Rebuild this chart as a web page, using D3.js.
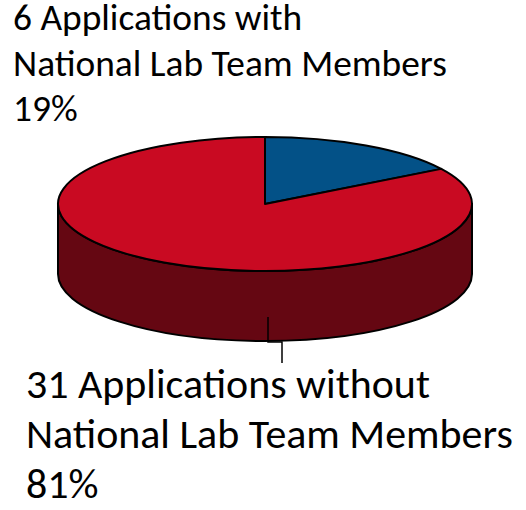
<!DOCTYPE html>
<html>
<head>
<meta charset="utf-8">
<script src="https://cdn.jsdelivr.net/npm/d3@7"></script>
<style>
  html, body { margin: 0; padding: 0; background: #fff; }
  text { font-family: Calibri, Carlito, Lato, sans-serif; fill: #000; }
</style>
</head>
<body>
<div id="chart"></div>
<script>
// data
const categories = ['with', 'without'];
const counts = [6, 31];
const percentLabels = ['19%', '81%'];
const labelLines = [
  ['6 Applications with', 'National Lab Team Members', '19%'],
  ['31 Applications without', 'National Lab Team Members', '81%']
];
const colors = ['#035187', '#c90a22'];
const sideColor = '#650712';

const width = 526;
const height = 510;
const cx = 265, cy = 204;   // centre of top ellipse
const rx = 207, ry = 67;
const depth = 70;

const svg = d3.select('#chart')
  .append('svg')
  .attr('width', width)
  .attr('height', height);

const pie = d3.pie().sort(null).value(d => d)(counts);

// angle 0 = top, clockwise
function pt(a, dy) {
  return [cx + rx * Math.sin(a), cy - ry * Math.cos(a) + (dy || 0)];
}

// side walls (only the front half, pi/2 .. 3pi/2, is visible)
const sides = svg.append('g');
pie.forEach((s, i) => {
  const a0 = Math.max(s.startAngle, Math.PI / 2);
  const a1 = Math.min(s.endAngle, 3 * Math.PI / 2);
  if (a1 <= a0) return;
  const p0 = pt(a0), p1 = pt(a1), q1 = pt(a1, depth), q0 = pt(a0, depth);
  const d = `M${p0}A${rx},${ry} 0 0 1 ${p1}L${q1}A${rx},${ry} 0 0 0 ${q0}Z`;
  sides.append('path')
    .attr('d', d)
    .style('fill', sideColor)
    .style('stroke', '#000')
    .style('stroke-width', 2)
    .style('stroke-linejoin', 'round');
});

// top face
const topFace = svg.append('g');
pie.forEach((s, i) => {
  const p0 = pt(s.startAngle), p1 = pt(s.endAngle);
  const large = (s.endAngle - s.startAngle) > Math.PI ? 1 : 0;
  topFace.append('path')
    .attr('d', `M${cx},${cy}L${p0}A${rx},${ry} 0 ${large} 1 ${p1}Z`)
    .style('fill', colors[i])
    .style('stroke', '#000')
    .style('stroke-width', 2)
    .style('stroke-linejoin', 'round');
});

// leader line for the big slice
const lb = pt(Math.PI, depth);
svg.append('path')
  .attr('d', `M${lb[0] + 3},${lb[1] - 24}V${lb[1] + 1}H${lb[0] + 17}V${lb[1] + 22}`)
  .style('fill', 'none')
  .style('stroke', '#000')
  .style('stroke-width', 1.5);

// labels
const labelPos = [
  { x: 13, y: 30, lh: 45.5, w: 434 },
  { x: 26, y: 398, lh: 50, w: 487 }
];
labelLines.forEach((lines, i) => {
  const lp = labelPos[i];
  const g = svg.append('text').attr('x', lp.x).attr('y', lp.y).style('font-size', '30px');
  lines.forEach((t, j) => {
    g.append('tspan').attr('x', lp.x).attr('y', lp.y + j * lp.lh).text(t);
  });
  // fit font size to the longest line
  const longest = g.selectAll('tspan').nodes()[1];
  const w = longest.getComputedTextLength();
  g.style('font-size', (30 * lp.w / w).toFixed(2) + 'px');
});
</script>
</body>
</html>
